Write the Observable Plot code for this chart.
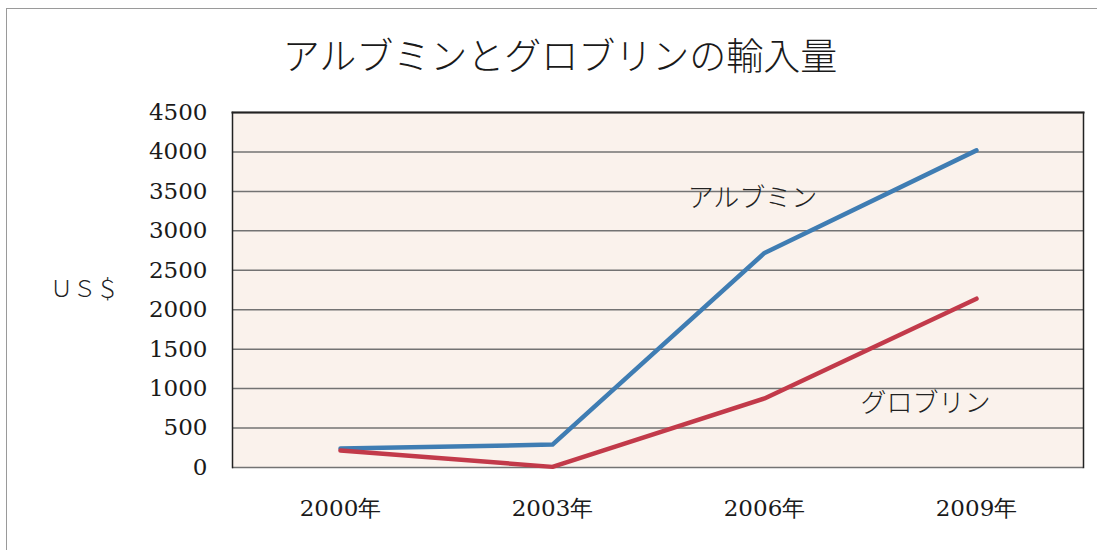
<!DOCTYPE html>
<html>
<head>
<meta charset="utf-8">
<script src="https://cdn.jsdelivr.net/npm/d3@7"></script>
<script src="https://cdn.jsdelivr.net/npm/@observablehq/plot@0.6"></script>
<style>
  html, body { margin: 0; padding: 0; background: #ffffff; }
  #wrap { position: relative; width: 1104px; height: 550px; overflow: hidden; }
  #frame { position: absolute; left: 6px; top: 8px; width: 1090px; height: 560px;
           border-top: 1.5px solid #9a9a9a; border-left: 1.5px solid #9a9a9a; }
  #title { position: absolute; left: 0; top: 0; width: 1120px; height: 90px;
           line-height: 108px; text-align: center;
           font-family: "Noto Sans CJK JP", sans-serif; font-weight: 300;
           font-size: 37px; color: #1a1a1a; }
  #chart { position: absolute; left: 0; top: 90px; }
</style>
</head>
<body>
<div id="wrap">
  <div id="frame"></div>
  <div id="title">アルブミンとグロブリンの輸入量</div>
  <div id="chart"></div>
</div>
<script>
const years = ["2000年", "2003年", "2006年", "2009年"];
const albumin = [240, 290, 2720, 4020];
const globulin = [215, 8, 875, 2140];
const yTicks = [0, 500, 1000, 1500, 2000, 2500, 3000, 3500, 4000, 4500];
const seriesNames = ["アルブミン", "グロブリン"];
const yLabel = "ＵＳ＄";

const rows = [];
years.forEach((y, i) => {
  rows.push({year: y, value: albumin[i], series: seriesNames[0]});
  rows.push({year: y, value: globulin[i], series: seriesNames[1]});
});
const labelRows = [
  {year: years[2], value: albumin[2], text: seriesNames[0]},
  {year: years[3], value: globulin[3], text: seriesNames[1]}
];

const serif = "'DejaVu Serif', 'Liberation Serif', serif";
const jp = "'Noto Sans CJK JP', sans-serif";

const chart = Plot.plot({
  width: 1104,
  height: 460,
  marginLeft: 232,
  marginRight: 21,
  marginTop: 22,
  marginBottom: 83,
  style: { fontFamily: serif, fontSize: "23px", color: "#1a1a1a", background: "transparent" },
  x: { type: "point", domain: years, padding: 0.5, label: null },
  y: { domain: [0, 4500], ticks: yTicks, label: null },
  color: { domain: seriesNames, range: ["#3f7db3", "#c23a4a"] },
  marks: [
    Plot.frame({ fill: "#faf2ec", stroke: null }),
    Plot.gridY(yTicks, { stroke: "#737373", strokeOpacity: 1, strokeWidth: 1.5 }),
    Plot.frame({ anchor: "left", stroke: "#222", strokeWidth: 1.5 }),
    Plot.frame({ anchor: "right", stroke: "#222", strokeWidth: 1.5 }),
    Plot.frame({ anchor: "top", stroke: "#222", strokeWidth: 2 }),
    Plot.axisY(yTicks, { tickSize: 0, tickPadding: 25, fontSize: 23, fontFamily: serif,
                         tickFormat: (d) => String(d), label: null }),
    Plot.axisX({ tickSize: 0, tickPadding: 32, fontSize: 23, fontFamily: serif, label: null }),
    Plot.line(rows, { x: "year", y: "value", z: "series", stroke: "series", strokeWidth: 4.5,
                      strokeLinecap: "round", strokeLinejoin: "round" }),
    Plot.text([labelRows[0]], { x: "year", y: "value", text: "text", fontFamily: jp, fontWeight: 300,
                           fontSize: 26, fill: "#222", dx: -12, dy: -54, textAnchor: "middle" }),
    Plot.text([labelRows[1]], { x: "year", y: "value", text: "text", fontFamily: jp, fontWeight: 300,
                           fontSize: 26, fill: "#222", dx: -51, dy: 105, textAnchor: "middle" }),
    Plot.text([yLabel], { frameAnchor: "left", dx: -148, fontFamily: jp, fontWeight: 300,
                          fontSize: 23, fill: "#222", textAnchor: "middle" })
  ]
});
document.getElementById("chart").appendChild(chart);
</script>
</body>
</html>
